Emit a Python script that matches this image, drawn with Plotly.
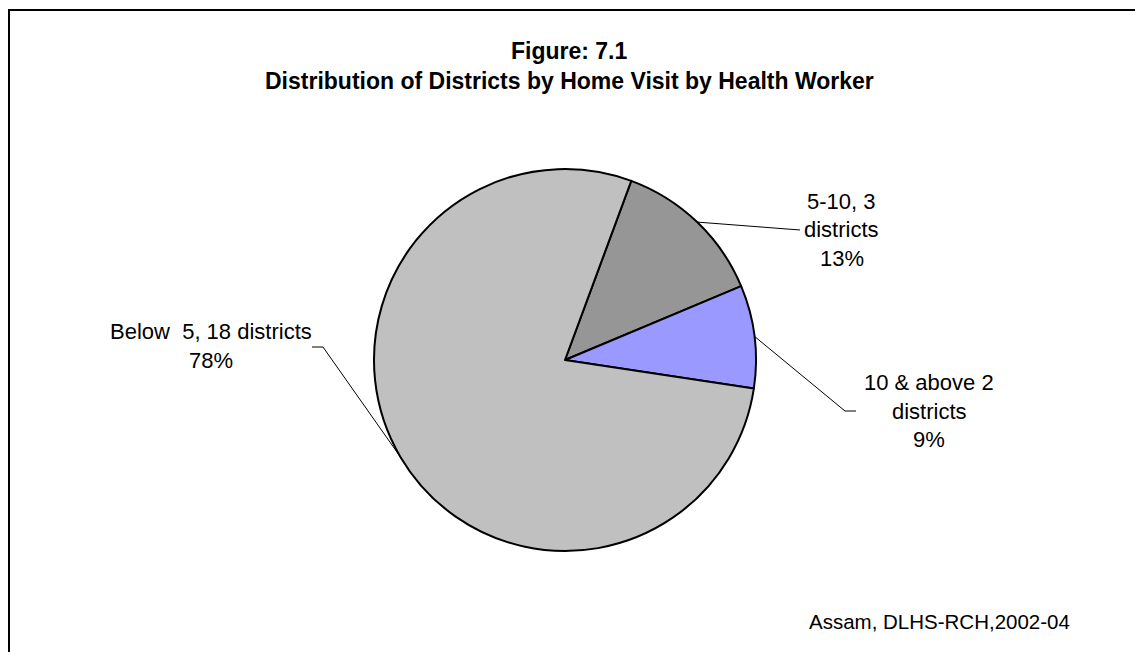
import math
import plotly.graph_objects as go

# Districts grouped by number of home visits by health workers
categories = ["5-10", "10 & above", "Below  5"]
districts = [3, 2, 18]
colors = ["#969696", "#9999FF", "#C0C0C0"]

W, H = 1135, 652
FONT = "Arial, Liberation Sans, sans-serif"

# pie geometry (pixels)
cx, cy, r = 565, 360, 191
start_angle = 20.3  # degrees clockwise from 12 o'clock

total = sum(districts)
pct = [round(100 * v / total) for v in districts]
label_text = [
    [f"{categories[0]}, {districts[0]}", "districts", f"{pct[0]}%"],
    [f"{categories[1]} {districts[1]}", "districts", f"{pct[1]}%"],
    [f"{categories[2]}, {districts[2]} districts", f"{pct[2]}%"],
]

# label placement: centre x, y of the line the leader meets, elbow / end of leader
label_pos = [
    dict(x=842, y=230, elbow=None, end=(800, 230)),
    dict(x=929, y=411, elbow=(845, 411), end=(856, 411)),
    dict(x=211, y=346, elbow=(323, 347), end=(312, 347)),
]
line_gap = 28.5


def px(x):
    return x / W


def py(y):
    return 1 - y / H


fig = go.Figure(
    go.Pie(
        labels=categories,
        values=districts,
        sort=False,
        direction="clockwise",
        rotation=start_angle,
        marker=dict(colors=colors, line=dict(color="black", width=2)),
        textinfo="none",
        hoverinfo="skip",
        showlegend=False,
        domain=dict(x=[px(cx - r), px(cx + r)], y=[py(cy + r), py(cy - r)]),
    )
)

shapes = []
annotations = []

# leader lines from each slice's mid-angle on the rim to its label
acc = 0
for i, v in enumerate(districts):
    mid = math.radians(start_angle + 360 * (acc + v / 2) / total)
    acc += v
    ex, ey = cx + r * math.sin(mid), cy - r * math.cos(mid)
    pts = [(ex, ey)]
    lp = label_pos[i]
    if lp["elbow"]:
        pts.append(lp["elbow"])
    pts.append(lp["end"])
    path = "M " + " L ".join(f"{px(a):.5f},{py(b):.5f}" for a, b in pts)
    shapes.append(dict(type="path", path=path, xref="paper", yref="paper",
                       line=dict(color="black", width=1)))

    lines = label_text[i]
    n = len(lines)
    y0 = lp["y"] - (n - 1) / 2 * line_gap
    for k, t in enumerate(lines):
        annotations.append(dict(
            text=t, x=px(lp["x"]), y=py(y0 + k * line_gap),
            xref="paper", yref="paper", xanchor="center", yanchor="middle",
            showarrow=False, font=dict(family=FONT, size=22, color="black"),
        ))

# outer frame
shapes.append(dict(type="rect", xref="paper", yref="paper",
                   x0=px(9), y0=py(700), x1=px(1200), y1=py(10),
                   line=dict(color="black", width=2)))

# title
for t, y in [("Figure: 7.1", 51), ("Distribution of Districts by Home Visit by Health Worker", 81)]:
    annotations.append(dict(
        text=f"<b>{t}</b>", x=px(569), y=py(y), xref="paper", yref="paper",
        xanchor="center", yanchor="middle", showarrow=False,
        font=dict(family=FONT, size=23, color="black"),
    ))

# source note
annotations.append(dict(
    text="Assam, DLHS-RCH,2002-04", x=px(1072), y=py(621),
    xref="paper", yref="paper", xanchor="right", yanchor="middle",
    showarrow=False, font=dict(family=FONT, size=20.5, color="black"),
))

fig.update_layout(
    width=W, height=H,
    margin=dict(l=0, r=0, t=0, b=0),
    paper_bgcolor="white", plot_bgcolor="white",
    shapes=shapes, annotations=annotations,
)

fig.write_html("out.html")
